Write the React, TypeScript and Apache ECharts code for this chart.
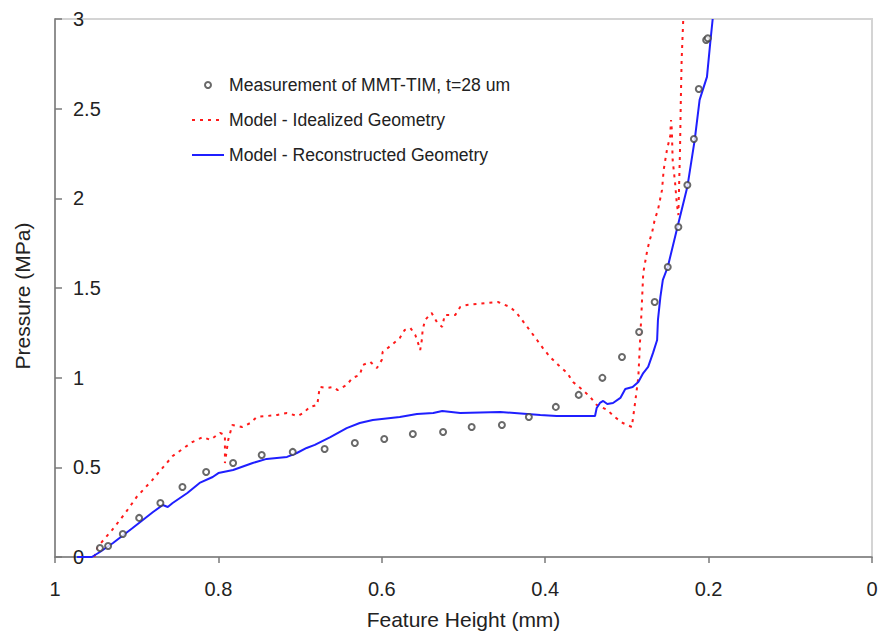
import React, { useEffect, useRef } from "react";
import * as echarts from "echarts";

// Measurement of MMT-TIM, t=28 um
const measHeight = [0.945, 0.935, 0.917, 0.897, 0.871, 0.844, 0.815, 0.782, 0.747, 0.709, 0.670, 0.633, 0.597, 0.562, 0.525, 0.490, 0.453, 0.420, 0.387, 0.359, 0.330, 0.306, 0.285, 0.266, 0.250, 0.237, 0.226, 0.218, 0.212, 0.203, 0.201];
const measPressure = [0.050, 0.061, 0.128, 0.218, 0.301, 0.390, 0.474, 0.524, 0.569, 0.586, 0.602, 0.636, 0.658, 0.686, 0.697, 0.725, 0.736, 0.781, 0.837, 0.904, 0.999, 1.115, 1.255, 1.422, 1.617, 1.840, 2.074, 2.331, 2.610, 2.883, 2.893];

// Model - Idealized Geometry
const idealHeight = [0.952, 0.947, 0.930, 0.914, 0.900, 0.881, 0.856, 0.832, 0.819, 0.810, 0.798, 0.792, 0.792, 0.788, 0.783, 0.771, 0.761, 0.753, 0.741, 0.728, 0.716, 0.703, 0.696, 0.688, 0.679, 0.676, 0.667, 0.660, 0.654, 0.643, 0.636, 0.627, 0.623, 0.614, 0.606, 0.600, 0.599, 0.588, 0.578, 0.572, 0.565, 0.559, 0.556, 0.553, 0.551, 0.550, 0.547, 0.539, 0.532, 0.526, 0.523, 0.510, 0.504, 0.496, 0.483, 0.470, 0.458, 0.443, 0.435, 0.422, 0.410, 0.403, 0.394, 0.384, 0.373, 0.366, 0.354, 0.345, 0.337, 0.324, 0.315, 0.305, 0.294, 0.290, 0.286, 0.284, 0.282, 0.280, 0.275, 0.272, 0.269, 0.266, 0.262, 0.257, 0.255, 0.251, 0.247, 0.246, 0.245, 0.244, 0.241, 0.239, 0.237, 0.236, 0.235, 0.234, 0.233, 0.231];
const idealPressure = [0.000, 0.061, 0.151, 0.245, 0.335, 0.429, 0.563, 0.641, 0.669, 0.653, 0.692, 0.680, 0.524, 0.653, 0.736, 0.725, 0.747, 0.781, 0.786, 0.792, 0.803, 0.786, 0.803, 0.837, 0.848, 0.948, 0.943, 0.948, 0.931, 0.959, 0.998, 1.015, 1.071, 1.088, 1.054, 1.099, 1.143, 1.182, 1.221, 1.266, 1.277, 1.238, 1.199, 1.154, 1.210, 1.266, 1.322, 1.361, 1.305, 1.283, 1.350, 1.350, 1.394, 1.405, 1.411, 1.417, 1.422, 1.394, 1.361, 1.283, 1.210, 1.166, 1.115, 1.071, 1.026, 0.976, 0.931, 0.892, 0.848, 0.820, 0.781, 0.747, 0.725, 0.859, 1.004, 1.194, 1.378, 1.584, 1.712, 1.768, 1.813, 1.880, 1.935, 2.047, 2.158, 2.270, 2.348, 2.437, 2.381, 2.214, 2.086, 1.974, 1.907, 2.091, 2.270, 2.549, 2.772, 3.000];

// Model - Reconstructed Geometry
const reconHeight = [0.973, 0.955, 0.945, 0.929, 0.905, 0.880, 0.868, 0.862, 0.856, 0.838, 0.823, 0.807, 0.800, 0.782, 0.758, 0.741, 0.716, 0.704, 0.692, 0.682, 0.663, 0.643, 0.627, 0.611, 0.578, 0.557, 0.537, 0.526, 0.504, 0.455, 0.406, 0.386, 0.339, 0.337, 0.333, 0.329, 0.324, 0.317, 0.308, 0.302, 0.293, 0.286, 0.280, 0.274, 0.268, 0.263, 0.262, 0.259, 0.256, 0.250, 0.239, 0.226, 0.217, 0.211, 0.202, 0.198, 0.195];
const reconPressure = [0.000, 0.000, 0.028, 0.078, 0.162, 0.251, 0.290, 0.279, 0.301, 0.357, 0.413, 0.446, 0.468, 0.485, 0.524, 0.547, 0.558, 0.580, 0.608, 0.625, 0.669, 0.719, 0.747, 0.764, 0.781, 0.798, 0.803, 0.814, 0.803, 0.809, 0.792, 0.786, 0.786, 0.831, 0.859, 0.870, 0.853, 0.859, 0.887, 0.937, 0.948, 0.976, 1.026, 1.060, 1.138, 1.210, 1.322, 1.450, 1.545, 1.617, 1.824, 2.064, 2.326, 2.549, 2.677, 2.867, 3.000];

const seriesNames = [
  "Measurement of MMT-TIM, t=28 um",
  "Model - Idealized Geometry",
  "Model - Reconstructed Geometry",
];
const xTitle = "Feature Height (mm)";
const yTitle = "Pressure (MPa)";

const zip = (a: number[], b: number[]) => a.map((v, i) => [v, b[i]]);

const FONT = "'Liberation Sans', Arial, sans-serif";

export default function App() {
  const ref = useRef<HTMLDivElement>(null);
  useEffect(() => {
    if (!ref.current) return;
    const chart = echarts.init(ref.current, undefined, { renderer: "svg" });
    chart.setOption({
      animation: false,
      backgroundColor: "#ffffff",
      textStyle: { fontFamily: FONT },
      grid: {
        left: 55,
        right: 19,
        top: 19,
        bottom: 78,
        show: true,
        borderColor: "#d4d4d4",
        borderWidth: 2,
        backgroundColor: "transparent",
      },
      legend: {
        orient: "vertical",
        left: 186,
        top: 71,
        itemWidth: 32,
        itemHeight: 6,
        itemGap: 17,
        textStyle: { fontSize: 17.6, color: "#222", fontFamily: FONT },
        data: [
          { name: seriesNames[0] },
          { name: seriesNames[1], itemStyle: { opacity: 0 } },
          { name: seriesNames[2], itemStyle: { opacity: 0 } },
        ],
      },
      xAxis: {
        type: "value",
        inverse: true,
        min: 0,
        max: 1,
        interval: 0.2,
        name: xTitle,
        nameLocation: "middle",
        nameGap: 52,
        nameTextStyle: { fontSize: 21, color: "#222", fontFamily: FONT },
        axisLine: { show: true, onZero: false, lineStyle: { color: "#7a7a7a", width: 1.5 } },
        axisTick: { show: true, inside: false, length: 6, lineStyle: { color: "#7a7a7a", width: 1.5 } },
        axisLabel: { fontSize: 20, color: "#222", margin: 22, fontFamily: FONT },
        splitLine: { show: false },
      },
      yAxis: {
        type: "value",
        min: 0,
        max: 3,
        interval: 0.5,
        name: yTitle,
        nameLocation: "middle",
        nameGap: 22,
        nameTextStyle: { fontSize: 21, color: "#222", fontFamily: FONT, padding: [0, 16, 0, 0] },
        axisLine: { show: true, onZero: false, lineStyle: { color: "#7a7a7a", width: 1.5 } },
        axisTick: { show: true, inside: true, length: 7, lineStyle: { color: "#7a7a7a", width: 1.5 } },
        axisLabel: { inside: true, fontSize: 20, color: "#222", margin: 18, fontFamily: FONT },
        splitLine: { show: false },
      },
      series: [
        {
          name: seriesNames[0],
          type: "scatter",
          data: zip(measHeight, measPressure),
          symbol: "emptyCircle",
          symbolSize: 6,
          itemStyle: { color: "#444", borderColor: "#444", borderWidth: 1 },
          z: 3,
        },
        {
          name: seriesNames[1],
          type: "line",
          data: zip(idealHeight, idealPressure),
          symbol: "none",
          showSymbol: false,
          lineStyle: { color: "#ff1a1a", width: 2, type: [3, 5] },
          itemStyle: { color: "#ff1a1a" },
          z: 2,
        },
        {
          name: seriesNames[2],
          type: "line",
          data: zip(reconHeight, reconPressure),
          symbol: "none",
          showSymbol: false,
          lineStyle: { color: "#1f1fff", width: 2 },
          itemStyle: { color: "#1f1fff" },
          z: 2,
        },
      ],
    });
    return () => chart.dispose();
  }, []);
  return <div ref={ref} style={{ width: 891, height: 635, position: "absolute", left: 0, top: 0 }} />;
}
